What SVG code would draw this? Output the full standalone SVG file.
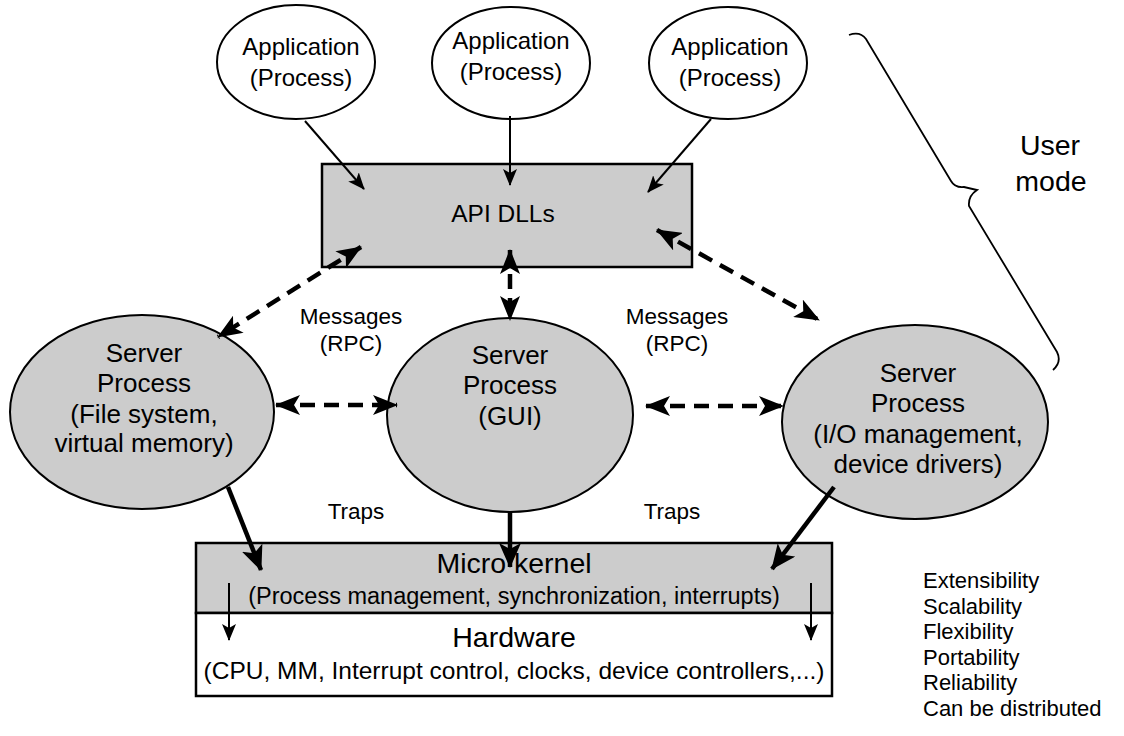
<svg xmlns="http://www.w3.org/2000/svg" width="1124" height="736" viewBox="0 0 1124 736">
<style>
text{font-family:"Liberation Sans",Arial,sans-serif;fill:#000;text-anchor:middle}
.app{fill:#fff;stroke:#000;stroke-width:2}
.srv{fill:#cccccc;stroke:#000;stroke-width:2}
.box{stroke:#000;stroke-width:2.5}
.thin{stroke:#000;stroke-width:2;fill:none}
.dash{stroke:#000;stroke-width:4.5;fill:none;stroke-dasharray:15 9}
.thick{stroke:#000;stroke-width:4.5;fill:none}
.ta{font-size:24px}
.ts{font-size:26px}
.tl{font-size:22.5px}
.tk{font-size:28.5px}
.lst{font-size:22px;text-anchor:start}
</style>
<defs>
<marker id="ah" markerUnits="userSpaceOnUse" markerWidth="18" markerHeight="14" refX="16" refY="7" orient="auto-start-reverse">
<path d="M0,0 L17,7 L0,14 L4,7 z" fill="#000"/>
</marker>
<marker id="ahd" markerUnits="userSpaceOnUse" markerWidth="26" markerHeight="20" refX="24" refY="10" orient="auto-start-reverse">
<path d="M0,0 L25,10 L0,20 L6,10 z" fill="#000"/>
</marker>
<marker id="aht" markerUnits="userSpaceOnUse" markerWidth="26" markerHeight="22" refX="24" refY="11" orient="auto">
<path d="M0,0 L25,11 L0,22 L6,11 z" fill="#000"/>
</marker>
</defs>

<g id="app1"><ellipse class="app" cx="296" cy="62" rx="79" ry="57"/><text class="ta" x="301" y="55">Application</text><text class="ta" x="301" y="86">(Process)</text></g>
<g id="app2"><ellipse class="app" cx="511" cy="63" rx="79" ry="56"/><text class="ta" x="511" y="49">Application</text><text class="ta" x="511" y="80">(Process)</text></g>
<g id="app3"><ellipse class="app" cx="728" cy="63" rx="79" ry="56"/><text class="ta" x="730" y="55">Application</text><text class="ta" x="730" y="86">(Process)</text></g>

<g id="api"><rect class="box" x="322" y="164" width="370" height="103" fill="#cccccc"/><text style="font-size:24.5px" x="503" y="222">API DLLs</text></g>

<g id="srv1"><ellipse class="srv" cx="142" cy="412" rx="132" ry="97"/>
<text class="ts" x="144" y="362">Server</text><text class="ts" x="144" y="392">Process</text><text class="ts" x="144" y="423">(File system,</text><text class="ts" x="144" y="452">virtual memory)</text></g>
<g id="srv2"><ellipse class="srv" cx="510" cy="415" rx="123" ry="97"/>
<text class="ts" x="510" y="364">Server</text><text class="ts" x="510" y="394">Process</text><text class="ts" x="510" y="425">(GUI)</text></g>
<g id="srv3"><ellipse class="srv" cx="915" cy="422" rx="133" ry="97"/>
<text class="ts" x="918" y="382">Server</text><text class="ts" x="918" y="412">Process</text><text class="ts" x="918" y="443">(I/O management,</text><text class="ts" x="918" y="473">device drivers)</text></g>

<g id="kernel"><rect class="box" x="196" y="543" width="636" height="70" fill="#cccccc"/>
<text class="tk" x="514" y="573">Micro kernel</text><text style="font-size:23.5px" x="514" y="604">(Process management, synchronization, interrupts)</text></g>
<g id="hardware"><rect class="box" x="196" y="613" width="636" height="83" fill="#fff"/>
<text class="tk" x="514" y="647">Hardware</text><text style="font-size:24.5px" x="514" y="679">(CPU, MM, Interrupt control, clocks, device controllers,...)</text></g>

<g id="labels">
<text class="tl" x="351" y="324">Messages</text><text class="tl" x="351" y="351">(RPC)</text>
<text class="tl" x="356" y="519">Traps</text><text class="tl" x="672" y="519">Traps</text>
<text class="tl" x="677" y="324">Messages</text><text class="tl" x="677" y="351">(RPC)</text>
</g>

<g id="usermode">
<path class="thin" style="stroke-width:1.8" d="M849,35 Q860,31 866,39 L951,181 Q955,188 964,187 L977,190 Q968,196 969,206 L1057,352 Q1062,362 1053,370"/>
<text class="tk" x="1050" y="155">User</text><text class="tk" x="1051" y="191">mode</text>
</g>

<g id="properties">
<text class="lst" x="923" y="588">Extensibility</text>
<text class="lst" x="923" y="613.5">Scalability</text>
<text class="lst" x="923" y="639">Flexibility</text>
<text class="lst" x="923" y="664.5">Portability</text>
<text class="lst" x="923" y="690">Reliability</text>
<text class="lst" x="923" y="715.5">Can be distributed</text>
</g>

<g id="connectors">
<line class="thin" x1="305" y1="121" x2="364" y2="189" marker-end="url(#ah)"/>
<line class="thin" x1="510" y1="116" x2="510" y2="185" marker-end="url(#ah)"/>
<line class="thin" x1="711" y1="119" x2="648" y2="192" marker-end="url(#ah)"/>
<line class="dash" x1="361" y1="247" x2="218" y2="337" marker-start="url(#ahd)" marker-end="url(#ahd)"/>
<line class="dash" x1="510" y1="250" x2="510" y2="320" marker-start="url(#ahd)" marker-end="url(#ahd)"/>
<line class="dash" x1="657" y1="230" x2="819" y2="320" marker-start="url(#ahd)" marker-end="url(#ahd)"/>
<line class="dash" x1="276" y1="405" x2="397" y2="405" marker-start="url(#ahd)" marker-end="url(#ahd)"/>
<line class="dash" x1="646" y1="406" x2="783" y2="406" marker-start="url(#ahd)" marker-end="url(#ahd)"/>
<line class="thick" x1="228" y1="487" x2="261" y2="570" marker-end="url(#aht)"/>
<line class="thick" x1="510" y1="512" x2="510" y2="567" marker-end="url(#aht)"/>
<line class="thick" x1="834" y1="487" x2="772" y2="569" marker-end="url(#aht)"/>
<line class="thin" x1="229" y1="583" x2="229" y2="640" marker-end="url(#ah)"/>
<line class="thin" x1="811" y1="583" x2="811" y2="640" marker-end="url(#ah)"/>
</g>
</svg>
